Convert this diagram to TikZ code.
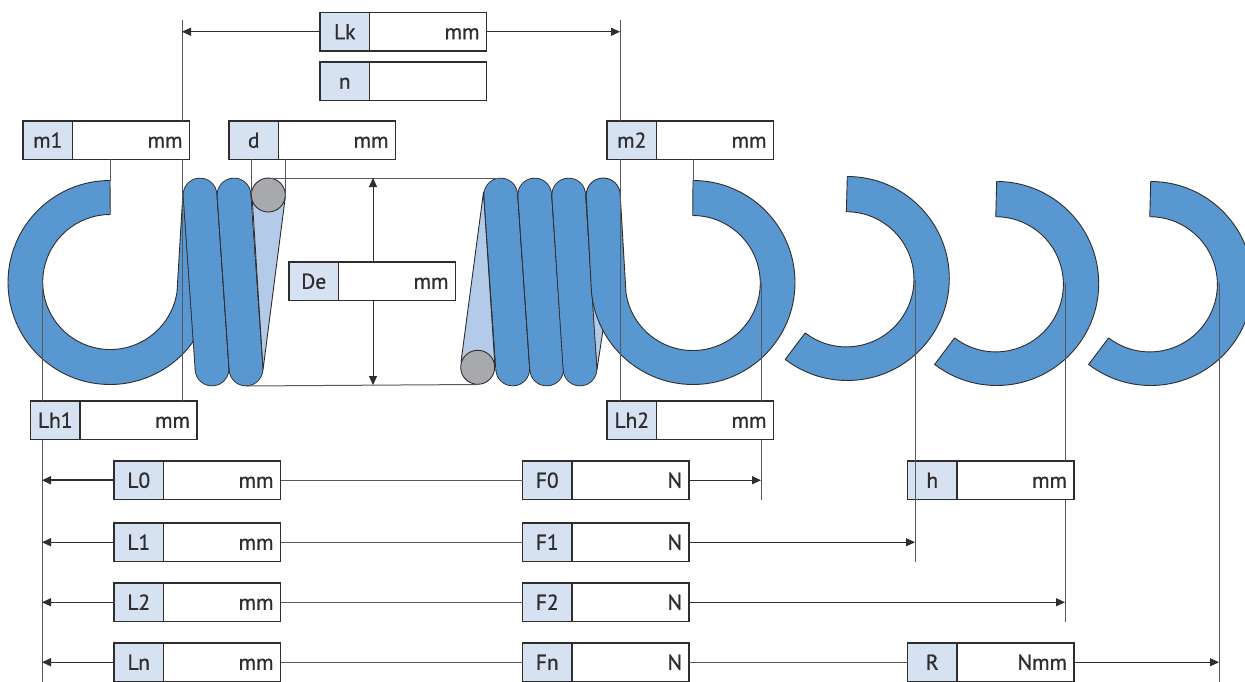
\documentclass[tikz,border=0pt]{standalone}
\usepackage{fontspec}
\setmainfont{PT Sans}[FakeBold=0.8]
\usetikzlibrary{arrows.meta}
\definecolor{coil}{HTML}{5997D0}
\definecolor{cell}{HTML}{D6E2F2}
\definecolor{wedge}{HTML}{B4CAE9}
\definecolor{wire}{HTML}{A7A9AC}
\definecolor{ink}{HTML}{2F2D2E}
\definecolor{thin}{HTML}{58585A}
\tikzset{
  labcell/.style={draw=ink,line width=1.3pt,fill=cell,text=ink,inner sep=0pt,outer sep=0pt,minimum width=49.5pt,minimum height=38.5pt,anchor=north west,text height=15pt,text depth=0pt,font=\fontsize{21.5}{24}\selectfont},
  valcell/.style={draw=ink,line width=1.3pt,fill=white,text=ink,inner ysep=0pt,inner xsep=7pt,outer sep=0pt,text width=103pt,align=right,minimum height=38.5pt,anchor=west,text height=15pt,text depth=0pt,font=\fontsize{21.5}{24}\selectfont},
  part/.style={draw=ink,line width=0.9pt,fill=coil,line join=round},
  guide/.style={draw=thin,line width=1pt},
  dim/.style={draw=ink,line width=1pt,-{Triangle[length=9pt,width=8pt]}},
  link/.style={draw=thin,line width=1pt},
}
% name, left, top, label, unit
\newcommand{\fieldbox}[5]{%
  \node[labcell] (#1l) at (#2,#3) {#4};
  \node[valcell] (#1v) at (#1l.east) {#5};
}
% stadium-shaped coil between two axis ends
\newcommand{\coilturn}[4]{%
  \draw[ink,line width=34.6pt,line cap=round] (#1,#2) -- (#3,#4);
  \draw[coil,line width=32.8pt,line cap=round] (#1,#2) -- (#3,#4);
}
% free hook: centre x, centre y
\newcommand{\freehook}[2]{%
  \draw[part] (#1,#2-102) arc[start angle=-90,end angle=127.5,radius=102]
    -- ++(20.0,-26.5) arc[start angle=127.5,end angle=-90,radius=67.6] -- cycle;
}
\begin{document}
\begin{tikzpicture}[x=1pt,y=-1pt]
\useasboundingbox (0,0) rectangle (1245,682);
\fill[white] (0,0) rectangle (1245,682);

% named guide positions
\coordinate (gA) at (42,0);
\coordinate (gB) at (182,0);
\coordinate (gC) at (620,0);
\coordinate (gD) at (761,0);
\coordinate (gE) at (915,0);
\coordinate (gF) at (1065,0);
\coordinate (gG) at (1219,0);
\coordinate (wireTop) at (268.3,195);
\coordinate (wireBot) at (477.7,367.3);

% wedges behind the coils
\fill[wedge,draw=ink,line width=0.9pt,line join=round] (252,195) -- (285.3,197) -- (263,370) -- cycle;
\fill[wedge,draw=ink,line width=0.9pt,line join=round] (483.5,192) -- (461,362) -- (495,367) -- cycle;
\fill[wedge,draw=ink,line width=0.9pt,line join=round] (590,285) -- (597,369.5) -- (606,310) -- cycle;

% left hook
\draw[part] (110,180.5) arc[start angle=-90,end angle=-324,radius=102]
  -- (205,300) -- (200,195) -- (183,192) -- (177,292)
  arc[start angle=-351.5,end angle=-90,radius=67.5] -- cycle;

% right coils
\coilturn{200}{195}{212}{369}
\coilturn{234}{195}{246}{369}
\coilturn{500.7}{195}{512.7}{369}
\coilturn{534.7}{195}{546.7}{369}
\coilturn{568.7}{195}{580}{369}

% right hook with last coil
\draw[part] (693,180.5) arc[start angle=-90,end angle=90,radius=102]
  arc[start angle=90,end angle=174.3,radius=102]
  -- (586.2,195) arc[start angle=180,end angle=360,radius=17]
  -- (626,293) arc[start angle=171.5,end angle=-90,radius=67.5] -- cycle;

% free hooks
\freehook{847.3}{278.5}
\freehook{996.7}{283.5}
\begin{scope}
\clip (0,0) rectangle (1245,682);
\freehook{1150.7}{283.5}
\end{scope}

% wire sections
\draw[part,fill=wire] (wireTop) circle[radius=17];
\draw[part,fill=wire] (wireBot) circle[radius=17];

% boxes
\fieldbox{Lk}{320}{12.5}{Lk}{mm}
\fieldbox{nn}{320}{62}{n}{}
\fieldbox{mA}{23}{121}{m1}{mm}
\fieldbox{dd}{229}{121}{d}{mm}
\fieldbox{mB}{607}{121}{m2}{mm}
\fieldbox{De}{289}{262}{De}{mm}
\fieldbox{LhA}{30.5}{401}{Lh1}{mm}
\fieldbox{LhB}{607}{401}{Lh2}{mm}
\fieldbox{LO}{114}{461}{L0}{mm}
\fieldbox{FO}{522.5}{461}{F0}{N}
\fieldbox{hh}{907.5}{461}{h}{mm}
\fieldbox{LA}{114}{523}{L1}{mm}
\fieldbox{FA}{522.5}{523}{F1}{N}
\fieldbox{LB}{114}{583}{L2}{mm}
\fieldbox{FB}{522.5}{583}{F2}{N}
\fieldbox{LN}{114}{643}{Ln}{mm}
\fieldbox{FN}{522.5}{643}{Fn}{N}
\fieldbox{RR}{907.5}{643}{R}{Nmm}

% vertical guides
\draw[guide] (42,282) -- (LhAl.north -| gA);
\draw[guide] (LhAl.south -| gA) -- (42,682);
\draw[guide] (182,20) -- (mAv.north -| gB);
\draw[guide] (mAv.south -| gB) -- (LhAv.north -| gB);
\draw[guide] (620,20) -- (mBl.north -| gC);
\draw[guide] (mBl.south -| gC) -- (LhBl.north -| gC);
\draw[guide] (761,282) -- (LhBv.north -| gD);
\draw[guide] (LhBv.south -| gD) -- (761,500);
\draw[guide] (915,280) -- (915,562);
\draw[guide] (1065,283) -- (hhv.north -| gF);
\draw[guide] (hhv.south -| gF) -- (1065,622);
\draw[guide] (1219,283) -- (1219,682);
\draw[guide] (mAv.south -| 110,0) -- (110,181);
\draw[guide] (mBv.south -| 693,0) -- (693,181);
\draw[guide] (ddl.south -| 251.7,0) -- (251.7,195);
\draw[guide] (ddv.south -| 285.3,0) -- (285.3,195);
\draw[guide] (268.3,178) -- (500.7,178);
\draw[guide] (246,386) -- (477.7,384.5);

% dimension arrows
\draw[dim] (Lkl.west) -- (Lkl.west -| gB);
\draw[dim] (Lkv.east) -- (Lkv.east -| gC);
\draw[dim] (Del.north -| 373,0) -- (373,178);
\draw[dim] (Del.south -| 373,0) -- (373,385);

\draw[dim,line width=1.7pt] (LOl.west) -- (LOl.west -| gA);
\draw[link] (LOv.east) -- (FOl.west);
\draw[dim] (FOv.east) -- (FOv.east -| gD);

\draw[dim] (LAl.west) -- (LAl.west -| gA);
\draw[link] (LAv.east) -- (FAl.west);
\draw[dim] (FAv.east) -- (FAv.east -| gE);

\draw[dim] (LBl.west) -- (LBl.west -| gA);
\draw[link] (LBv.east) -- (FBl.west);
\draw[dim] (FBv.east) -- (FBv.east -| gF);

\draw[dim,line width=1.4pt] (LNl.west) -- (LNl.west -| gA);
\draw[link] (LNv.east) -- (FNl.west);
\draw[link] (FNv.east) -- (RRl.west);
\draw[dim] (RRv.east) -- (RRv.east -| gG);
\end{tikzpicture}
\end{document}
